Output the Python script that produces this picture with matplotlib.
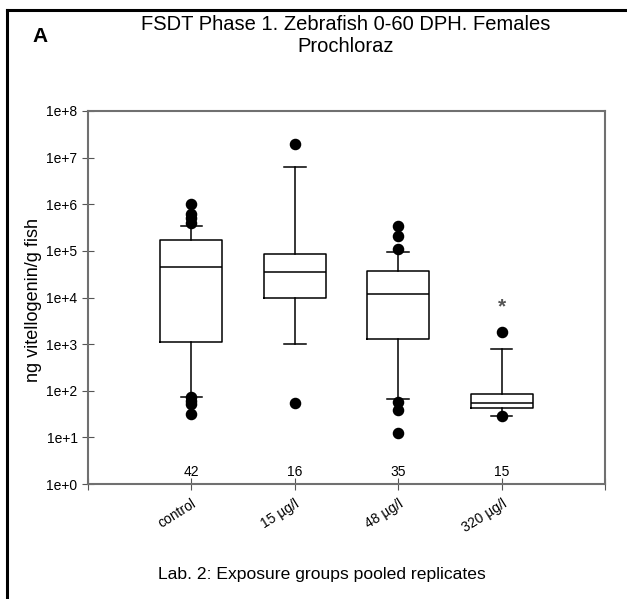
import numpy as np
import matplotlib
matplotlib.use("Agg")
import matplotlib.pyplot as plt
from matplotlib.lines import Line2D

plt.rcParams['font.family'] = ['Liberation Sans', 'DejaVu Sans']

# Data
groups = ['control', '15 µg/l', '48 µg/l', '320 µg/l']
n_fish = [42, 16, 35, 15]
q1 = [1.1e3, 1.0e4, 1.26e3, 43]
med = [4.5e4, 3.5e4, 1.2e4, 54]
q3 = [1.7e5, 8.6e4, 3.7e4, 85]
whislo = [75, 1.0e3, 66, 29]
whishi = [3.4e5, 6.3e6, 9.5e4, 780]
outliers = [
    [1.0e6, 6.3e5, 5.0e5, 4.0e5, 72, 60, 52, 31],
    [2.0e7, 54],
    [3.4e5, 2.1e5, 1.09e5, 57, 39, 12.6],
    [1.8e3, 29],
]
star_y = 6300

stats = []
for i in range(len(groups)):
    stats.append(dict(med=med[i], q1=q1[i], q3=q3[i], whislo=whislo[i],
                      whishi=whishi[i], fliers=outliers[i], label=groups[i]))

fig = plt.figure(figsize=(6.27, 5.99), dpi=100)
ax = fig.add_axes([88 / 627, 1 - 484 / 599, (605 - 88) / 627, (484 - 111) / 599])

pos = np.arange(1, len(groups) + 1)
ax.bxp(stats, positions=pos, widths=0.6, showfliers=True,
       boxprops=dict(color='black', linewidth=1.1),
       medianprops=dict(color='black', linewidth=1.1),
       whiskerprops=dict(color='black', linewidth=1.1),
       capprops=dict(color='black', linewidth=1.1),
       capwidths=0.21,
       flierprops=dict(marker='o', markerfacecolor='black',
                       markeredgecolor='black', markersize=7.3))

ax.set_yscale('log')
ax.set_ylim(1, 1e8)
ax.set_xlim(0, 5)
yt = [10.0 ** k for k in range(0, 9)]
ax.set_yticks(yt)
ax.set_yticklabels(['1e+%d' % k for k in range(0, 9)])
ax.yaxis.set_minor_locator(matplotlib.ticker.NullLocator())
ax.set_xticks([0] + list(pos) + [5])
ax.set_xticklabels([''] + groups + [''], fontsize=10)
for lab in ax.get_xticklabels():
    lab.set_rotation(32)
    lab.set_rotation_mode('anchor')
    lab.set_ha('right')
    lab.set_va('top')
ax.tick_params(axis='y', labelsize=10, direction='inout', length=8, color='#555555')
ax.tick_params(axis='x', direction='inout', length=8, color='#555555', pad=5)
for s in ax.spines.values():
    s.set_color('#707070')
    s.set_linewidth(1.5)

for p, n in zip(pos, n_fish):
    ax.text(p, 1.3, str(n), ha='center', va='bottom', fontsize=10)
ax.text(pos[-1], star_y, '*', ha='center', va='center', fontsize=15,
        fontweight='bold', color='#555555')

fig.text(34 / 627, 1 - 300 / 599, 'ng vitellogenin/g fish', rotation=90,
         ha='center', va='center', fontsize=13)
fig.text(346 / 627, 1 - 30 / 599, 'FSDT Phase 1. Zebrafish 0-60 DPH. Females',
         ha='center', va='baseline', fontsize=14.5)
fig.text(346 / 627, 1 - 52 / 599, 'Prochloraz',
         ha='center', va='baseline', fontsize=14.5)
fig.text(32 / 627, 1 - 42 / 599, 'A', ha='left', va='baseline', fontsize=15, fontweight='bold')
fig.text(322 / 627, 1 - 575 / 599, 'Lab. 2: Exposure groups pooled replicates',
         ha='center', va='center', fontsize=12.6)

# frame around the panel (top and left edges are inside the image)
fig.add_artist(Line2D([7 / 627, 1.0], [1 - 10 / 599, 1 - 10 / 599], color='black', lw=2.2))
fig.add_artist(Line2D([7 / 627, 7 / 627], [0.0, 1 - 10 / 599], color='black', lw=2.2))

fig.savefig('out.png', dpi=100)
